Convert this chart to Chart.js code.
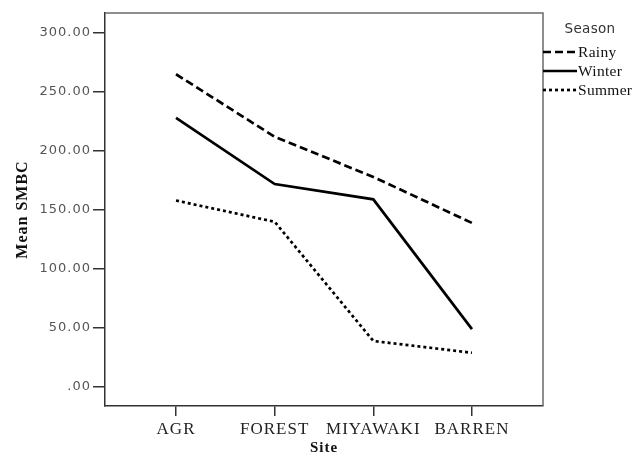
<!DOCTYPE html>
<html>
<head>
<meta charset="utf-8">
<script src="https://cdn.jsdelivr.net/npm/chart.js@4/dist/chart.umd.min.js"></script>
<style>
  html, body { margin: 0; padding: 0; background: #fff; }
  canvas { display: block; }
</style>
</head>
<body>
<canvas id="c" width="635" height="462"></canvas>
<script>
const sites = ["AGR", "FOREST", "MIYAWAKI", "BARREN"];
const seasons = ["Rainy", "Winter", "Summer"];
const rainy  = [265, 212, 178, 139];
const winter = [228, 172, 159, 49];
const summer = [158, 140, 39, 29];
const yTicks = [0, 50, 100, 150, 200, 250, 300];
const legendTitle = "Season";

const dashes = [[8, 4], [], [3, 3]];
const seriesValues = [rainy, winter, summer];

const datasets = seasons.map((name, k) => ({
  label: name,
  data: seriesValues[k].map((v, i) => ({ x: i, y: v })),
  borderColor: '#000',
  borderWidth: 2.7,
  borderDash: dashes[k],
  pointRadius: 0,
  tension: 0,
  fill: false
}));

const framePlugin = {
  id: 'frame',
  beforeDraw(chart) {
    chart.ctx.letterSpacing = '1px';
  },
  beforeDatasetsDraw(chart) {
    const { ctx, chartArea: a } = chart;
    ctx.save();
    ctx.strokeStyle = '#6a6a6a';
    ctx.lineWidth = 1.5;
    ctx.beginPath();
    ctx.moveTo(a.left, a.top);
    ctx.lineTo(a.right, a.top);
    ctx.lineTo(a.right, a.bottom);
    ctx.stroke();
    ctx.restore();
  },
  afterDraw(chart) {
    const { ctx, chartArea: a } = chart;
    ctx.save();
    ctx.letterSpacing = '0.3px';
    ctx.fillStyle = '#333';
    ctx.font = '13.5px "DejaVu Sans"';
    ctx.textAlign = 'center';
    ctx.textBaseline = 'middle';
    ctx.fillText(legendTitle, 590, 29);
    ctx.font = '15.5px "Liberation Serif"';
    ctx.textAlign = 'left';
    chart.data.datasets.forEach((ds, k) => {
      const y = 52 + k * 19;
      ctx.strokeStyle = '#000';
      ctx.lineWidth = 2.7;
      ctx.setLineDash(ds.borderDash || []);
      ctx.beginPath();
      ctx.moveTo(a.right, y);
      ctx.lineTo(a.right + 34, y);
      ctx.stroke();
      ctx.setLineDash([]);
      ctx.fillStyle = '#111';
      ctx.fillText(ds.label, a.right + 35, y + 1);
    });
    ctx.restore();
    ctx.letterSpacing = '0px';
  }
};

new Chart(document.getElementById('c'), {
  type: 'line',
  data: { datasets },
  plugins: [framePlugin],
  options: {
    responsive: false,
    animation: false,
    devicePixelRatio: 1,
    layout: { padding: { left: 0, top: 13, right: 92, bottom: 0 } },
    plugins: { legend: { display: false }, tooltip: { enabled: false } },
    scales: {
      x: {
        type: 'linear',
        min: -0.72,
        max: 3.72,
        afterBuildTicks: s => { s.ticks = sites.map((_, i) => ({ value: i })); },
        afterFit: s => { s.height = 56; },
        ticks: {
          callback: v => sites[v],
          color: '#222',
          font: { family: '"Liberation Serif"', size: 17 },
          padding: 3,
          maxRotation: 0,
          autoSkip: false
        },
        grid: { drawOnChartArea: false, drawTicks: true, tickLength: 10, color: '#333', lineWidth: 1.5 },
        border: { display: true, color: '#333', width: 1.5 },
        title: {
          display: true,
          text: 'Site',
          color: '#111',
          font: { family: '"Liberation Serif"', size: 15, weight: 'bold' },
          padding: { top: 0, bottom: 5 }
        }
      },
      y: {
        type: 'linear',
        min: -16.1,
        max: 316.9,
        afterBuildTicks: s => { s.ticks = yTicks.map(v => ({ value: v })); },
        afterFit: s => { s.width = 105; },
        ticks: {
          callback: v => v === 0 ? '.00' : v.toFixed(2),
          color: '#555',
          font: { family: '"DejaVu Sans"', size: 13 },
          padding: 2
        },
        grid: { drawOnChartArea: false, drawTicks: true, tickLength: 12, color: '#333', lineWidth: 1.5 },
        border: { display: true, color: '#333', width: 1.5 },
        title: {
          display: true,
          text: 'Mean SMBC',
          color: '#111',
          font: { family: '"Liberation Serif"', size: 16, weight: 'bold' },
          padding: { top: 13, bottom: 0 }
        }
      }
    }
  }
});
</script>
</body>
</html>
